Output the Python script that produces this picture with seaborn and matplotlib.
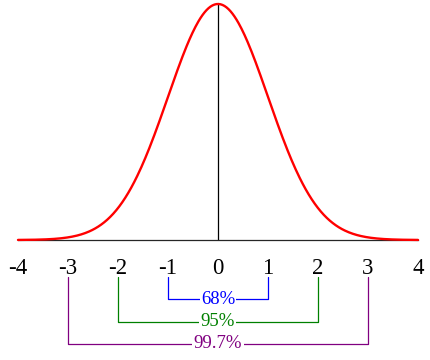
import numpy as np
import matplotlib
matplotlib.use("Agg")
import matplotlib.pyplot as plt
import seaborn as sns

# standard normal curve
mu = 0.0
sigma = 1.0
x_min, x_max = -4, 4
tick_values = [-4, -3, -2, -1, 0, 1, 2, 3, 4]
tick_labels = ["-4", "-3", "-2", "-1", "0", "1", "2", "3", "4"]

# spread brackets below the axis
spans = [1, 2, 3]
span_labels = ["68%", "95%", "99.7%"]
span_colors = ["#0000ff", "#008000", "#800080"]

sns.set_style("white")
plt.rcParams["font.family"] = ["Liberation Serif", "DejaVu Serif"]

x = np.linspace(x_min, x_max, 400)
y = np.exp(-0.5 * ((x - mu) / sigma) ** 2) / (sigma * np.sqrt(2 * np.pi))
peak = y.max()
k = peak / 236.0  # data units per pixel vertically

fig = plt.figure(figsize=(4.3, 3.6), dpi=100)
ax = fig.add_axes([0, 0, 1, 1])

sns.lineplot(x=x, y=y, color="red", lw=1.7, ax=ax, zorder=3)
ax.vlines(0, 0, peak, color="black", lw=0.9, zorder=2)

# axis: spine on y=0 with outward ticks
for side in ["top", "right", "left"]:
    ax.spines[side].set_visible(False)
ax.spines["bottom"].set_position(("data", 0))
ax.spines["bottom"].set_linewidth(0.9)
ax.spines["bottom"].set_bounds(x_min, x_max)
ax.set_xticks(tick_values)
ax.set_xticklabels(tick_labels, fontsize=16.5)
ax.tick_params(axis="x", direction="out", length=7.2, width=0.9, pad=6, colors="black")
ax.set_yticks([])

# brackets
levels = [59, 82, 104]
for s, lab, col, lev in zip(spans, span_labels, span_colors, levels):
    ax.plot([-s, -s, s, s], [-37 * k, -lev * k, -lev * k, -37 * k], color=col, lw=0.9)
    ax.text(0, -lev * k, lab, color=col, fontsize=13.5, ha="center", va="center",
            bbox=dict(facecolor="white", edgecolor="none", pad=1.0))

ax.set_xlim(x_min - 18 / 50, x_max + 12 / 50)
ax.set_ylim(-120 * k, peak + 4 * k)
ax.set_xlabel("")
ax.set_ylabel("")

fig.savefig("out.png", dpi=100, facecolor="white")
